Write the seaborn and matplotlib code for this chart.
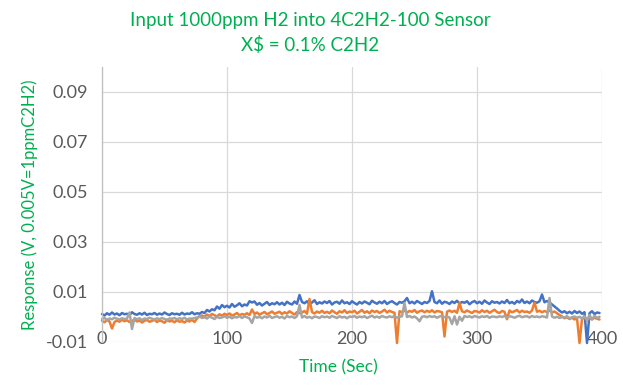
import numpy as np
import pandas as pd
import matplotlib
matplotlib.use("Agg")
import matplotlib.pyplot as plt
import seaborn as sns

# sample times (s), one reading every 2 s
time_s = list(range(0, 400, 2))

# sensor response in mV (converted to V below)
blue_mv = [
    1.2, 0.6, 1.5, 0.9, 1.8, 1.0, 1.4, 0.7, 1.6, 1.1,
    1.3, 0.8, 1.9, 1.2, 0.9, 1.5, 1.0, 1.7, 0.8, 1.3,
    1.1, 1.6, 0.9, 1.4, 1.0, 1.8, 1.2, 0.8, 1.5, 1.1,
    1.3, 0.9, 1.7, 1.0, 1.4, 1.2, 1.9, 1.1, 1.5, 1.3,
    2.0, 1.6, 2.8, 2.2, 3.1, 2.7, 4.2, 3.3, 4.8, 3.9,
    4.5, 3.8, 5.2, 4.1, 4.7, 5.5, 4.3, 5.0, 4.6, 6.3,
    5.8, 6.2, 4.9, 5.6, 4.6, 5.3, 6.0, 4.8, 5.5, 5.1,
    5.9, 5.0, 5.7, 4.8, 6.1, 5.4, 5.0, 6.2, 5.3, 8.8,
    6.0, 5.5, 6.3, 5.1, 5.8, 6.7, 5.2, 5.9, 5.4, 6.2,
    5.6, 6.4, 5.0, 5.8, 6.1, 5.3, 6.6, 5.5, 5.9, 5.2,
    6.3, 5.6, 5.0, 6.0, 5.4, 6.2, 5.7, 5.1, 6.5, 5.8,
    5.3, 6.1, 5.5, 6.4, 5.2, 5.9, 6.3, 5.6, 5.0, 6.0,
    5.7, 6.3, 7.6, 5.5, 6.1, 5.4, 6.4, 5.8, 5.2, 6.0,
    5.6, 6.4, 10.3, 6.0, 5.5, 6.6, 5.3, 6.1, 5.8, 5.2,
    6.2, 5.6, 6.5, 5.4, 6.0, 5.7, 6.3, 5.1, 5.9, 6.4,
    5.5, 6.1, 5.3, 6.6, 5.8, 5.2, 6.3, 5.7, 6.0, 5.4,
    6.2, 5.6, 6.8, 5.5, 6.0, 5.3, 6.4, 5.8, 7.0, 5.6,
    6.2, 5.5, 6.6, 6.0, 5.7, 6.3, 9.0, 5.9, 6.4, 5.8,
    5.0, 4.2, 3.4, 2.5, 1.8, 2.3, 1.5, 2.1, 1.4, 2.4,
    1.6, 2.2, 1.3, 1.9, -10.4, 1.5, 2.3, 1.2, 1.8, 1.6,
]
orange_mv = [
    -1.5, -2.1, -1.2, -1.8, -4.6, -2.0, -1.4, -1.9, -1.1, -1.7,
    -1.3, -2.0, -1.6, -1.0, -1.8, -1.4, -2.2, -1.5, -1.2, -1.9,
    -1.6, -1.1, -2.0, -1.4, -1.7, -2.3, -1.2, -1.8, -1.5, -2.1,
    -1.3, -1.9, -1.6, -2.2, -1.4, -1.8, -1.1, -2.0, -0.6, 0.3,
    0.6, 0.1, 1.0, 0.4, 1.2, 0.7, 0.2, 1.1, 0.5, 1.3,
    0.8, 1.4, 0.6, 1.0, 1.6, 0.7, 1.2, 0.9, 1.5, 0.8,
    3.0, 1.2, 1.8, 0.9, 1.5, 2.0, 1.1, 1.6, 2.2, 1.3,
    1.7, 2.1, 1.2, 1.9, 1.4, 2.3, 1.6, 1.0, 2.0, 1.5,
    1.8, 2.4, 1.3, 7.2, 2.0, 1.4, 2.2, 1.7, 2.5, 1.6,
    2.1, 1.5, 2.6, 1.9, 1.3, 2.3, 1.8, 2.7, 1.6, 2.2,
    1.9, 2.5, 1.4, 2.1, 2.8, 1.7, 2.3, 1.5, 2.6, 2.0,
    2.4, 1.6, 2.2, 2.9, 1.8, 2.5, 2.0, 1.7, -10.4, 2.3,
    2.0, 2.6, 1.8, 2.4, 2.1, 2.8, 1.7, 2.3, 2.6, 1.9,
    2.5, 2.0, 2.7, 1.8, 2.4, 2.2, 1.9, -7.8, 2.1, 2.6,
    2.0, 2.5, 1.7, 5.6, 2.3, 1.9, 2.6, 2.1, 1.6, 2.4,
    2.2, 1.8, 2.7, 2.0, 2.5, 1.7, 2.3, 2.9, 2.0, 1.6,
    2.4, 2.1, -0.9, 2.6, 1.9, 2.3, 2.8, 1.8, 2.5, 2.0,
    2.2, 1.7, 2.6, 5.8, 2.1, 2.5, 1.9, 2.4, 2.0, 2.6,
    1.8, 2.2, 1.5, 0.8, 0.2, -0.5, -0.1, -0.8, -0.3, -1.0,
    -0.4, -10.4, -0.8, -0.2, -1.1, -0.5, -0.9, -0.3, -0.7, -1.0,
]
gray_mv = [
    -0.8, -0.4, -1.1, -0.6, -0.9, -0.3, -0.7, -1.0, -0.5, -0.8,
    -0.6, 1.8, -4.8, -0.4, -0.9, -0.5, -1.2, -0.6, -0.8, -0.3,
    -0.7, -1.0, -0.5, -0.9, -0.4, -0.8, -1.1, -0.6, -0.7, -0.4,
    -0.9, -0.5, -0.8, -0.3, -1.0, -0.6, -0.7, -0.4, -0.2, 0.3,
    -0.4, -0.1, -0.6, 0.2, -0.3, -0.8, 0.1, -0.4, -0.2, 0.3,
    -0.3, 0.1, -0.5, 0.0, -0.2, 0.4, -0.4, 0.2, -0.1, -0.6,
    -2.4, 0.4, -0.3, 0.1, -0.5, 0.2, -0.2, 0.5, -0.4, 0.0,
    0.3, -0.3, 0.1, -0.6, 0.4, -0.1, 0.2, -0.4, 0.3, 4.8,
    -0.2, 0.4, -0.3, 0.1, -0.5, 0.2, 0.0, -0.4, 0.3, -0.1,
    0.2, -0.3, 0.4, 0.0, -0.4, 0.3, -0.2, 0.1, -0.5, 0.2,
    0.0, 0.4, -0.3, 0.2, -0.1, 0.3, -0.4, 0.1, 0.5, -0.2,
    0.2, -0.3, 0.4, 0.0, -0.2, 0.3, -0.1, 0.4, -0.3, 0.1,
    0.3, 5.6, 0.0, 0.4, -0.2, 0.2, -0.5, -1.7, 0.1, 0.3,
    -0.1, 0.4, 0.0, 0.3, -0.3, 0.2, 0.5, -0.1, 0.2, -0.2,
    -2.8, 0.3, -3.0, 0.1, -1.5, 0.4, 0.0, 0.3, -0.2, 0.4,
    0.1, -0.2, 0.3, 0.0, 0.4, -0.3, 0.2, 0.1, -0.1, 0.3,
    0.0, 0.4, -0.2, 0.3, 0.1, -0.3, 0.2, 0.5, -0.1, 0.2,
    0.3, -0.2, 0.4, 0.0, 0.2, -0.1, 0.3, 0.1, -0.2, 7.6,
    0.2, -0.3, 0.1, -0.4, 0.0, -0.2, 0.3, -0.5, -0.1, 0.2,
    -0.3, 0.1, -0.6, 0.4, -1.5, 0.8, -1.0, 0.5, -0.4, 0.1,
]

series_names = ["Series1", "Series2", "Series3"]
series_colors = ["#4472C4", "#ED7D31", "#A5A5A5"]
x_ticks = [0, 100, 200, 300, 400]
y_ticks = [-0.01, 0.01, 0.03, 0.05, 0.07, 0.09]

frames = []
for name, vals in zip(series_names, [blue_mv, orange_mv, gray_mv]):
    frames.append(pd.DataFrame({
        "time": time_s,
        "response": np.array(vals) / 1000.0,
        "series": name,
    }))
data = pd.concat(frames, ignore_index=True)

sns.set_style("white")
plt.rcParams["font.family"] = ["Lato", "DejaVu Sans"]

green = "#00B050"
grey_text = "#595959"

fig = plt.figure(figsize=(6.23, 3.89), dpi=100)
ax = fig.add_axes([102 / 623, 1 - 342 / 389, 500 / 623, 275 / 389])

sns.lineplot(
    ax=ax,
    data=data,
    x="time",
    y="response",
    hue="series",
    palette=dict(zip(series_names, series_colors)),
    linewidth=1.8,
    legend=False,
    clip_on=False,
)

ax.set_xlim(0, 400)
ax.set_ylim(-0.01, 0.1)
ax.set_xticks(x_ticks)
ax.set_yticks(y_ticks)
ax.set_xticklabels([str(t) for t in x_ticks])
ax.set_yticklabels([f"{t:g}" for t in y_ticks])
ax.grid(True, color="#D9D9D9", linewidth=0.9)
ax.set_axisbelow(True)
for side in ["top", "right", "bottom"]:
    ax.spines[side].set_visible(False)
ax.spines["left"].set_color("#BFBFBF")
ax.spines["left"].set_linewidth(0.9)
ax.tick_params(axis="both", length=0, labelsize=13, labelcolor=grey_text)
ax.tick_params(axis="y", pad=10)
ax.tick_params(axis="x", pad=-8)
ax.set_xlabel("")
ax.set_ylabel("")

fig.text(310 / 623, 1 - 33 / 389,
         "Input 1000ppm H2 into 4C2H2-100 Sensor\nX$ = 0.1% C2H2",
         ha="center", va="center", color=green, fontsize=13.5, linespacing=1.45)
fig.text(30 / 623, 1 - 205 / 389, "Response (V, 0.005V=1ppmC2H2)",
         rotation=90, ha="center", va="center", color=green, fontsize=12)
fig.text(338 / 623, 1 - 367 / 389, "Time (Sec)",
         ha="center", va="center", color=green, fontsize=12.5)

fig.savefig("out.png", dpi=100)
